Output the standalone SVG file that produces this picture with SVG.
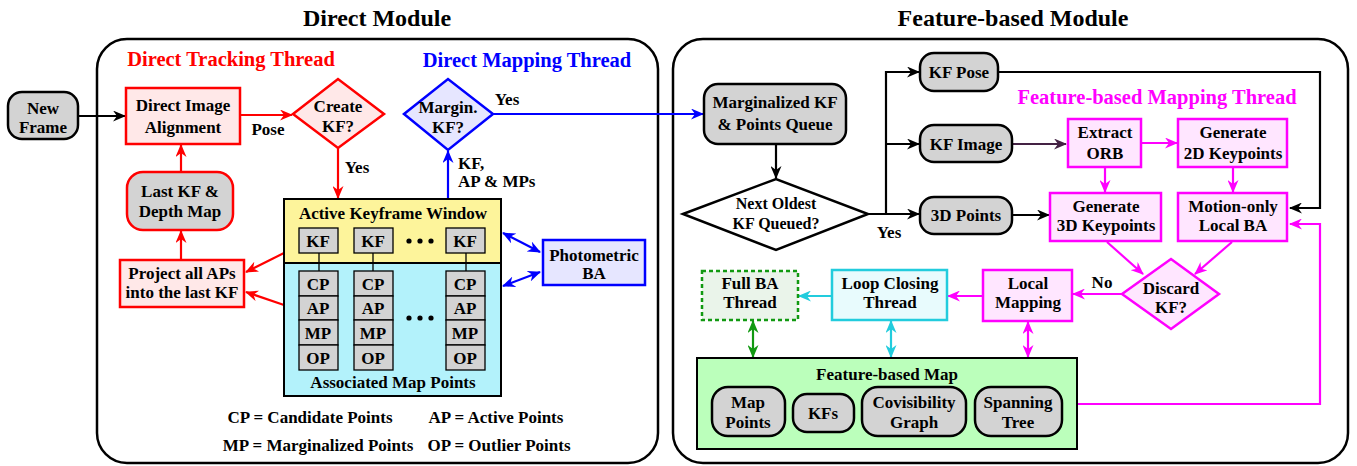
<svg xmlns="http://www.w3.org/2000/svg" width="1357" height="466" viewBox="0 0 1357 466">
<style>
text{font-family:"Liberation Serif","Times New Roman",serif;font-weight:bold;font-size:17px;text-anchor:middle;fill:#000}
.title{font-size:24px}
.thr{font-size:20.5px}
.red{fill:#ff0000}.blue{fill:#0000ff}.mag{fill:#ff00ff}
.l{fill:none;stroke-width:2.2}
.lk{stroke:#000}.lr{stroke:#ff0000}.lb{stroke:#0000ff}.lm{stroke:#ff00ff}.lc{stroke:#22ccdd}.lg{stroke:#119911}.lp{stroke:#442244}
.grey{fill:#d3d3d3;stroke:#000;stroke-width:2.5}
.pinkr{fill:#ffe8e8;stroke:#ff0000;stroke-width:2.5}
.lav{fill:#e6e6ff;stroke:#0000ff;stroke-width:2.5}
.pm{fill:#ffe6ff;stroke:#ff00ff;stroke-width:2.5}
.cell{fill:#d3d3d3;stroke:#000;stroke-width:1.3}
</style>
<defs>
<marker id="ak" viewBox="0 0 13 11" refX="12" refY="5.5" markerWidth="13" markerHeight="11" markerUnits="userSpaceOnUse" orient="auto-start-reverse"><path d="M0,0 L13,5.5 L0,11 L4,5.5 z" fill="#000"/></marker>
<marker id="ar" viewBox="0 0 13 11" refX="12" refY="5.5" markerWidth="13" markerHeight="11" markerUnits="userSpaceOnUse" orient="auto-start-reverse"><path d="M0,0 L13,5.5 L0,11 L4,5.5 z" fill="#ff0000"/></marker>
<marker id="ab" viewBox="0 0 13 11" refX="12" refY="5.5" markerWidth="13" markerHeight="11" markerUnits="userSpaceOnUse" orient="auto-start-reverse"><path d="M0,0 L13,5.5 L0,11 L4,5.5 z" fill="#0000ff"/></marker>
<marker id="am" viewBox="0 0 13 11" refX="12" refY="5.5" markerWidth="13" markerHeight="11" markerUnits="userSpaceOnUse" orient="auto-start-reverse"><path d="M0,0 L13,5.5 L0,11 L4,5.5 z" fill="#ff00ff"/></marker>
<marker id="ac" viewBox="0 0 13 11" refX="12" refY="5.5" markerWidth="13" markerHeight="11" markerUnits="userSpaceOnUse" orient="auto-start-reverse"><path d="M0,0 L13,5.5 L0,11 L4,5.5 z" fill="#22ccdd"/></marker>
<marker id="ag" viewBox="0 0 13 11" refX="12" refY="5.5" markerWidth="13" markerHeight="11" markerUnits="userSpaceOnUse" orient="auto-start-reverse"><path d="M0,0 L13,5.5 L0,11 L4,5.5 z" fill="#119911"/></marker>
<marker id="ap" viewBox="0 0 13 11" refX="12" refY="5.5" markerWidth="13" markerHeight="11" markerUnits="userSpaceOnUse" orient="auto-start-reverse"><path d="M0,0 L13,5.5 L0,11 L4,5.5 z" fill="#442244"/></marker>
</defs>

<rect width="1357" height="466" fill="#fff"/>

<g id="direct-module">
<rect x="97" y="39" width="561" height="424" rx="30" fill="none" stroke="#000" stroke-width="2.5"/>
<text class="title" x="377" y="26">Direct Module</text>
<text class="thr red" x="231" y="66">Direct Tracking Thread</text>
<text class="thr blue" x="527" y="67">Direct Mapping Thread</text>
</g>
<g id="feature-module">
<rect x="673" y="39" width="675" height="424" rx="30" fill="none" stroke="#000" stroke-width="2.5"/>
<text class="title" x="1013" y="26">Feature-based Module</text>
<text class="thr mag" x="1157" y="104">Feature-based Mapping Thread</text>
</g>

<g id="connectors">
<line class="l lk" x1="78" y1="116" x2="125" y2="116" marker-end="url(#ak)"/>
<line class="l lr" x1="240" y1="115" x2="292" y2="115" marker-end="url(#ar)"/>
<line class="l lr" x1="338" y1="148" x2="338" y2="198" marker-end="url(#ar)"/>
<line class="l lr" x1="181" y1="172" x2="181" y2="145" marker-end="url(#ar)"/>
<line class="l lr" x1="181" y1="260" x2="181" y2="231" marker-end="url(#ar)"/>
<line class="l lr" x1="284" y1="253" x2="246" y2="272" marker-end="url(#ar)"/>
<line class="l lr" x1="284" y1="305" x2="246" y2="292" marker-end="url(#ar)"/>
<line class="l lb" x1="448" y1="199" x2="448" y2="151" marker-end="url(#ab)"/>
<line class="l lb" x1="493" y1="114" x2="703" y2="114" marker-end="url(#ab)"/>
<line class="l lb" x1="503" y1="233" x2="540" y2="252" marker-start="url(#ab)" marker-end="url(#ab)"/>
<line class="l lb" x1="503" y1="286" x2="540" y2="272" marker-start="url(#ab)" marker-end="url(#ab)"/>
<line class="l lk" x1="776" y1="144" x2="776" y2="178" marker-end="url(#ak)"/>
<polyline class="l lk" points="868,214 886,214 886,72 919,72" marker-end="url(#ak)"/>
<line class="l lk" x1="886" y1="144" x2="919" y2="144" marker-end="url(#ak)"/>
<line class="l lk" x1="886" y1="214" x2="919" y2="214" marker-end="url(#ak)"/>
<polyline class="l lk" points="998,72 1320,72 1320,208 1290,208" marker-end="url(#ak)"/>
<line class="l lp" x1="1012" y1="144" x2="1066" y2="144" marker-end="url(#ap)"/>
<line class="l lk" x1="1012" y1="215" x2="1049" y2="215" marker-end="url(#ak)"/>
<line class="l lm" x1="1141" y1="143" x2="1177" y2="143" marker-end="url(#am)"/>
<line class="l lm" x1="1105" y1="167" x2="1105" y2="192" marker-end="url(#am)"/>
<line class="l lm" x1="1233" y1="167" x2="1233" y2="192" marker-end="url(#am)"/>
<line class="l lm" x1="1107" y1="242" x2="1143" y2="274" marker-end="url(#am)"/>
<line class="l lm" x1="1232" y1="242" x2="1195" y2="274" marker-end="url(#am)"/>
<line class="l lm" x1="1122" y1="294" x2="1073" y2="294" marker-end="url(#am)"/>
<line class="l lm" x1="983" y1="296" x2="948" y2="296" marker-end="url(#am)"/>
<line class="l lc" x1="832" y1="296" x2="799" y2="296" marker-end="url(#ac)"/>
<polyline class="l lm" points="1077,404 1320,404 1320,224 1290,224" marker-end="url(#am)"/>
<line class="l lg" x1="753" y1="321" x2="753" y2="357" marker-start="url(#ag)" marker-end="url(#ag)"/>
<line class="l lc" x1="891" y1="321" x2="891" y2="357" marker-start="url(#ac)" marker-end="url(#ac)"/>
<line class="l lm" x1="1028" y1="322" x2="1028" y2="357" marker-start="url(#am)" marker-end="url(#am)"/>
<text x="268" y="135">Pose</text>
<text x="357" y="173">Yes</text>
<text x="458" y="169" style="text-anchor:start">KF,</text>
<text x="458" y="187" style="text-anchor:start">AP &amp; MPs</text>
<text x="507" y="105">Yes</text>
<text x="889" y="238">Yes</text>
<text x="1102" y="288">No</text>
</g>

<g id="new-frame">
<rect class="grey" x="8" y="92" width="70" height="47" rx="14"/>
<text x="43" y="114">New</text><text x="43" y="133">Frame</text>
</g>
<g id="direct-image-alignment">
<rect class="pinkr" x="126" y="88" width="114" height="56"/>
<text x="183" y="111">Direct Image</text><text x="183" y="133">Alignment</text>
</g>
<g id="create-kf">
<polygon class="pinkr" points="293,114 338,79 384,114 338,148"/>
<text x="338" y="112">Create</text><text x="338" y="132">KF?</text>
</g>
<g id="margin-kf">
<polygon class="lav" points="404,114 448,79 493,114 448,150"/>
<text x="448" y="113">Margin.</text><text x="448" y="133">KF?</text>
</g>
<g id="last-kf-depth-map">
<rect x="127" y="172" width="106" height="58" rx="16" fill="#d3d3d3" stroke="#ff0000" stroke-width="2.5"/>
<text x="180" y="197">Last KF &amp;</text><text x="180" y="217">Depth Map</text>
</g>
<g id="project-aps">
<rect class="pinkr" x="120" y="260" width="124" height="47"/>
<text x="182" y="279">Project all APs</text><text x="182" y="298">into the last KF</text>
</g>
<g id="active-keyframe-window">
<rect x="284" y="199" width="217" height="64" fill="#fdf49b" stroke="#000" stroke-width="2"/>
<rect x="284" y="263" width="217" height="133" fill="#b3f2fb" stroke="#000" stroke-width="2"/>
<text x="393" y="219">Active Keyframe Window</text>
<text x="393" y="388">Associated Map Points</text>
<g stroke="#000" stroke-width="1.3">
<line x1="319" y1="253" x2="319" y2="271"/><line x1="373" y1="253" x2="373" y2="271"/><line x1="466" y1="253" x2="466" y2="271"/>
</g>
<rect class="cell" x="299" y="228" width="39" height="25"/><text x="318" y="247">KF</text>
<rect class="cell" x="354" y="228" width="39" height="25"/><text x="373" y="247">KF</text>
<rect class="cell" x="446" y="228" width="39" height="25"/><text x="465" y="247">KF</text>
<g fill="#000"><circle cx="409" cy="241" r="2.6"/><circle cx="420" cy="241" r="2.6"/><circle cx="431" cy="241" r="2.6"/>
<circle cx="409" cy="318" r="2.6"/><circle cx="420" cy="318" r="2.6"/><circle cx="431" cy="318" r="2.6"/></g>
<rect class="cell" x="299" y="271" width="39" height="25"/><rect class="cell" x="299" y="296" width="39" height="24"/><rect class="cell" x="299" y="320" width="39" height="25"/><rect class="cell" x="299" y="345" width="39" height="25"/>
<rect class="cell" x="354" y="271" width="39" height="25"/><rect class="cell" x="354" y="296" width="39" height="24"/><rect class="cell" x="354" y="320" width="39" height="25"/><rect class="cell" x="354" y="345" width="39" height="25"/>
<rect class="cell" x="446" y="271" width="39" height="25"/><rect class="cell" x="446" y="296" width="39" height="24"/><rect class="cell" x="446" y="320" width="39" height="25"/><rect class="cell" x="446" y="345" width="39" height="25"/>
<text x="318" y="290">CP</text><text x="318" y="314">AP</text><text x="318" y="339">MP</text><text x="318" y="364">OP</text>
<text x="373" y="290">CP</text><text x="373" y="314">AP</text><text x="373" y="339">MP</text><text x="373" y="364">OP</text>
<text x="465" y="290">CP</text><text x="465" y="314">AP</text><text x="465" y="339">MP</text><text x="465" y="364">OP</text>
</g>
<g id="photometric-ba">
<rect class="lav" x="543" y="240" width="102" height="45"/>
<text x="594" y="261">Photometric</text><text x="594" y="279">BA</text>
</g>
<g id="legend">
<text x="310" y="423">CP = Candidate Points</text>
<text x="496" y="423">AP = Active Points</text>
<text x="318" y="451">MP = Marginalized Points</text>
<text x="499" y="451">OP = Outlier Points</text>
</g>

<g id="marginalized-queue">
<rect class="grey" x="704" y="84" width="142" height="60" rx="14"/>
<text x="775" y="108">Marginalized KF</text><text x="775" y="130">&amp; Points Queue</text>
</g>
<g id="next-oldest-kf">
<polygon points="683,214 776,179 868,214 776,250" fill="#fff" stroke="#000" stroke-width="2.5"/>
<text x="776" y="209" style="font-size:16px">Next Oldest</text><text x="776" y="229" style="font-size:16px">KF Queued?</text>
</g>
<g id="kf-pose">
<rect class="grey" x="920" y="53" width="78" height="38" rx="14"/>
<text x="959" y="78">KF Pose</text>
</g>
<g id="kf-image">
<rect class="grey" x="920" y="125" width="92" height="37" rx="14"/>
<text x="966" y="150">KF Image</text>
</g>
<g id="points-3d">
<rect class="grey" x="920" y="197" width="92" height="37" rx="14"/>
<text x="966" y="221">3D Points</text>
</g>
<g id="extract-orb">
<rect class="pm" x="1068" y="119" width="73" height="48"/>
<text x="1105" y="138">Extract</text><text x="1105" y="159">ORB</text>
</g>
<g id="generate-2d">
<rect class="pm" x="1178" y="119" width="109" height="48"/>
<text x="1233" y="138">Generate</text><text x="1233" y="159">2D Keypoints</text>
</g>
<g id="generate-3d">
<rect class="pm" x="1050" y="193" width="111" height="48"/>
<text x="1106" y="212">Generate</text><text x="1106" y="231">3D Keypoints</text>
</g>
<g id="motion-only-ba">
<rect class="pm" x="1178" y="193" width="109" height="48"/>
<text x="1233" y="212">Motion-only</text><text x="1233" y="231">Local BA</text>
</g>
<g id="discard-kf">
<polygon class="pm" points="1122,294 1171,259 1219,294 1171,329"/>
<text x="1171" y="294">Discard</text><text x="1171" y="313">KF?</text>
</g>
<g id="local-mapping">
<rect class="pm" x="983" y="270" width="89" height="51"/>
<text x="1028" y="289">Local</text><text x="1028" y="308">Mapping</text>
</g>
<g id="loop-closing">
<rect x="832" y="270" width="115" height="50" fill="#e8fbfd" stroke="#22ccdd" stroke-width="2.5"/>
<text x="890" y="289">Loop Closing</text><text x="890" y="308">Thread</text>
</g>
<g id="full-ba">
<rect x="702" y="271" width="96" height="49" fill="#eaf4ea" stroke="#119911" stroke-width="2.5" stroke-dasharray="4,3"/>
<text x="750" y="289">Full BA</text><text x="750" y="308">Thread</text>
</g>
<g id="feature-based-map">
<rect x="697" y="358" width="380" height="91" fill="#bbffbb" stroke="#000" stroke-width="2"/>
<text x="887" y="380">Feature-based Map</text>
<rect class="grey" x="712" y="387" width="73" height="49" rx="16"/>
<text x="748" y="408">Map</text><text x="748" y="428">Points</text>
<rect class="grey" x="793" y="394" width="61" height="38" rx="14"/>
<text x="823" y="419">KFs</text>
<rect class="grey" x="862" y="387" width="104" height="49" rx="16"/>
<text x="914" y="408">Covisibility</text><text x="914" y="428">Graph</text>
<rect class="grey" x="975" y="387" width="87" height="49" rx="16"/>
<text x="1018" y="408">Spanning</text><text x="1018" y="428">Tree</text>
</g>
</svg>
